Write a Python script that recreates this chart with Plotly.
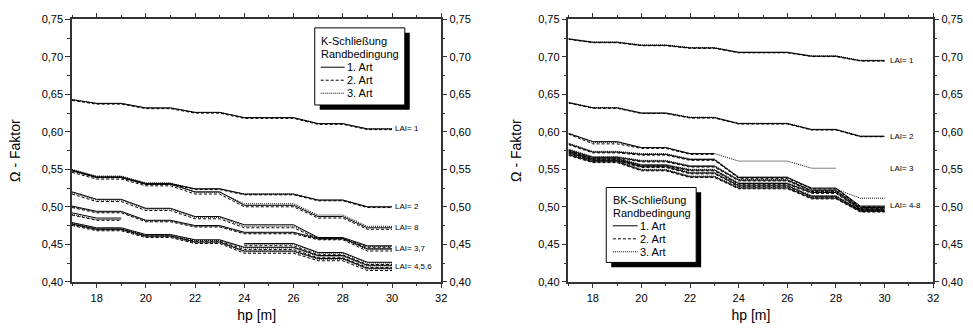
import plotly.graph_objects as go

# Canopy height hp [m]
HP = [17, 18, 19, 20, 21, 22, 23, 24, 25, 26, 27, 28, 29, 30]
ARTS = ["1. Art", "2. Art", "3. Art"]
_ = None

# ---- K-Schließung: Omega factor per LAI, one list per boundary condition ----
K_LAI1 = {
    "1. Art": [0.643, 0.638, 0.638, 0.632, 0.632, 0.626, 0.626, 0.619, 0.619, 0.619, 0.611, 0.611, 0.604, 0.604],
    "2. Art": [0.642, 0.637, 0.637, 0.631, 0.631, 0.625, 0.625, 0.618, 0.618, 0.618, 0.610, 0.610, 0.603, 0.603],
    "3. Art": [0.643, 0.638, 0.638, 0.632, 0.632, 0.626, 0.626, 0.619, 0.619, 0.619, 0.611, 0.611, 0.604, 0.604],
}
K_LAI2 = {
    "1. Art": [0.549, 0.540, 0.540, 0.531, 0.531, 0.524, 0.524, 0.517, 0.517, 0.517, 0.509, 0.509, 0.500, 0.500],
    "2. Art": [0.548, 0.539, 0.539, 0.530, 0.530, 0.523, 0.523, 0.516, 0.516, 0.516, 0.508, 0.508, 0.499, 0.499],
    "3. Art": [0.549, 0.540, 0.540, 0.531, 0.531, 0.524, 0.524, 0.517, 0.517, 0.517, 0.509, 0.509, 0.500, 0.500],
}
K_LAI8 = {
    "1. Art": [0.548, 0.539, 0.539, 0.530, 0.530, 0.520, 0.520, 0.502, 0.502, 0.502, 0.487, 0.487, 0.472, 0.472],
    "2. Art": [0.546, 0.537, 0.537, 0.528, 0.528, 0.517, 0.517, 0.500, 0.500, 0.500, 0.485, 0.485, 0.470, 0.470],
    "3. Art": [0.550, 0.541, 0.541, 0.532, 0.532, 0.519, 0.519, 0.504, 0.504, 0.504, 0.489, 0.489, 0.474, 0.474],
}
K_LAI3 = {
    "1. Art": [0.520, 0.510, 0.510, 0.498, 0.498, 0.487, 0.487, 0.476, 0.476, 0.476, 0.459, 0.459, 0.448, 0.448],
    "2. Art": [0.517, 0.507, 0.507, 0.495, 0.495, 0.484, 0.484, 0.472, 0.472, 0.472, 0.457, 0.457, 0.446, 0.446],
    "3. Art": [0.519, 0.509, 0.509, 0.497, 0.497, 0.486, 0.486, 0.474, 0.474, 0.474, 0.458, 0.458, 0.447, 0.447],
}
K_LAI7 = {
    "1. Art": [0.501, 0.494, 0.494, 0.482, 0.482, 0.475, 0.475, 0.466, 0.466, 0.466, 0.458, 0.458, 0.444, 0.444],
    "2. Art": [0.499, 0.492, 0.492, 0.480, 0.480, 0.473, 0.473, 0.464, 0.464, 0.464, 0.456, 0.456, 0.441, 0.441],
    "3. Art": [0.500, 0.493, 0.493, 0.481, 0.481, 0.474, 0.474, 0.465, 0.465, 0.465, 0.457, 0.457, 0.443, 0.443],
}
K_LAI6 = {
    "1. Art": [0.492, 0.485, 0.485, _, _, _, _, 0.451, 0.451, 0.451, 0.439, 0.439, 0.426, 0.426],
    "2. Art": [0.489, 0.482, 0.482, _, _, _, _, 0.448, 0.448, 0.448, 0.436, 0.436, 0.423, 0.423],
    "3. Art": [0.490, 0.483, 0.483, _, _, _, _, 0.450, 0.450, 0.450, 0.438, 0.438, 0.425, 0.425],
}
K_LAI4 = {
    "1. Art": [0.479, 0.472, 0.472, 0.463, 0.463, 0.456, 0.456, 0.446, 0.446, 0.446, 0.435, 0.435, 0.422, 0.422],
    "2. Art": [0.477, 0.470, 0.470, 0.461, 0.461, 0.454, 0.454, 0.443, 0.443, 0.443, 0.432, 0.432, 0.419, 0.419],
    "3. Art": [0.478, 0.471, 0.471, 0.462, 0.462, 0.455, 0.455, 0.445, 0.445, 0.445, 0.434, 0.434, 0.421, 0.421],
}
K_LAI5 = {
    "1. Art": [0.477, 0.470, 0.470, 0.461, 0.461, 0.453, 0.453, 0.441, 0.441, 0.441, 0.431, 0.431, 0.418, 0.418],
    "2. Art": [0.475, 0.468, 0.468, 0.459, 0.459, 0.451, 0.451, 0.438, 0.438, 0.438, 0.428, 0.428, 0.415, 0.415],
    "3. Art": [0.476, 0.469, 0.469, 0.460, 0.460, 0.452, 0.452, 0.440, 0.440, 0.440, 0.430, 0.430, 0.417, 0.417],
}

# ---- BK-Schließung ----
BK_LAI1 = {
    "1. Art": [0.724, 0.7195, 0.7195, 0.7155, 0.7155, 0.712, 0.712, 0.706, 0.706, 0.706, 0.701, 0.701, 0.695, 0.695],
    "2. Art": [0.7235, 0.719, 0.719, 0.715, 0.715, 0.7115, 0.7115, 0.7055, 0.7055, 0.7055, 0.7005, 0.7005, 0.6945, 0.6945],
    "3. Art": [0.7245, 0.720, 0.720, 0.716, 0.716, 0.7125, 0.7125, 0.7065, 0.7065, 0.7065, 0.7015, 0.7015, 0.6955, 0.6955],
}
BK_LAI2 = {
    "1. Art": [0.639, 0.632, 0.632, 0.625, 0.625, 0.619, 0.619, 0.611, 0.611, 0.611, 0.603, 0.603, 0.594, 0.594],
    "2. Art": [0.6385, 0.6315, 0.6315, 0.6245, 0.6245, 0.6185, 0.6185, 0.6105, 0.6105, 0.6105, 0.6025, 0.6025, 0.5935, 0.5935],
    "3. Art": [0.6395, 0.6325, 0.6325, 0.6255, 0.6255, 0.6195, 0.6195, 0.6115, 0.6115, 0.6115, 0.6035, 0.6035, 0.5945, 0.5945],
}
BK_LAI3 = {
    "1. Art": [0.598, 0.587, 0.587, 0.579, 0.579, 0.571, 0.571, _, _, _, _, _, _, _],
    "2. Art": [0.597, 0.584, 0.584, 0.578, 0.578, 0.570, 0.570, _, _, _, _, _, _, _],
    "3. Art": [0.598, 0.586, 0.586, 0.579, 0.579, 0.571, 0.571, 0.561, 0.561, 0.561, 0.5515, 0.5515, _, _],
}
BK_LAI4 = {
    "1. Art": [0.584, 0.573, 0.573, 0.570, 0.570, 0.563, 0.563, 0.539, 0.539, 0.539, 0.525, 0.525, 0.501, 0.501],
    "2. Art": [0.583, 0.572, 0.572, 0.569, 0.569, 0.562, 0.562, 0.538, 0.538, 0.538, 0.524, 0.524, 0.500, 0.500],
    "3. Art": [0.585, 0.574, 0.574, 0.571, 0.571, 0.564, 0.564, 0.540, 0.540, 0.540, 0.5235, 0.5235, 0.5115, 0.5115],
}
BK_LAI5 = {
    "1. Art": [0.576, 0.566, 0.566, 0.561, 0.561, 0.554, 0.554, 0.5355, 0.5355, 0.5355, 0.5215, 0.5215, 0.499, 0.499],
    "2. Art": [0.575, 0.565, 0.565, 0.560, 0.560, 0.553, 0.553, 0.5345, 0.5345, 0.5345, 0.5205, 0.5205, 0.498, 0.498],
    "3. Art": [0.577, 0.567, 0.567, 0.562, 0.562, 0.555, 0.555, 0.5365, 0.5365, 0.5365, 0.5225, 0.5225, 0.500, 0.500],
}
BK_LAI6 = {
    "1. Art": [0.574, 0.564, 0.564, 0.5555, 0.5555, 0.549, 0.549, 0.531, 0.531, 0.531, 0.519, 0.519, 0.497, 0.497],
    "2. Art": [0.573, 0.563, 0.563, 0.5545, 0.5545, 0.548, 0.548, 0.530, 0.530, 0.530, 0.518, 0.518, 0.496, 0.496],
    "3. Art": [0.575, 0.565, 0.565, 0.5565, 0.5565, 0.550, 0.550, 0.532, 0.532, 0.532, 0.520, 0.520, 0.498, 0.498],
}
BK_LAI7 = {
    "1. Art": [0.572, 0.562, 0.562, 0.5535, 0.5535, 0.545, 0.545, 0.528, 0.528, 0.528, 0.514, 0.514, 0.4955, 0.4955],
    "2. Art": [0.571, 0.561, 0.561, 0.5525, 0.5525, 0.544, 0.544, 0.527, 0.527, 0.527, 0.513, 0.513, 0.4945, 0.4945],
    "3. Art": [0.573, 0.563, 0.563, 0.5545, 0.5545, 0.546, 0.546, 0.529, 0.529, 0.529, 0.515, 0.515, 0.4965, 0.4965],
}
BK_LAI8 = {
    "1. Art": [0.5695, 0.560, 0.560, 0.549, 0.549, 0.540, 0.540, 0.525, 0.525, 0.525, 0.5115, 0.5115, 0.494, 0.494],
    "2. Art": [0.5685, 0.559, 0.559, 0.548, 0.548, 0.539, 0.539, 0.524, 0.524, 0.524, 0.5105, 0.5105, 0.493, 0.493],
    "3. Art": [0.5705, 0.561, 0.561, 0.550, 0.550, 0.541, 0.541, 0.526, 0.526, 0.526, 0.5125, 0.5125, 0.495, 0.495],
}

K_SERIES = [K_LAI1, K_LAI2, K_LAI3, K_LAI4, K_LAI5, K_LAI6, K_LAI7, K_LAI8]
BK_SERIES = [BK_LAI1, BK_LAI2, BK_LAI3, BK_LAI4, BK_LAI5, BK_LAI6, BK_LAI7, BK_LAI8]

# Curve end labels: (text, omega at hp = 30)
K_LABELS = [("LAI= 1", 0.604), ("LAI= 2", 0.500), ("LAI= 8", 0.472),
            ("LAI= 3,7", 0.445), ("LAI= 4,5,6", 0.420)]
BK_LABELS = [("LAI= 1", 0.695), ("LAI= 2", 0.594), ("LAI= 3", 0.5515),
             ("LAI= 4-8", 0.502)]

DASH = {"1. Art": "solid", "2. Art": "3px,2px", "3. Art": "1px,1px"}
FONT = "Arial, Liberation Sans, sans-serif"
W, H = 973, 333

fig = go.Figure()


def add_panel(series, xa, ya):
    for s in series:
        for art in ARTS:
            fig.add_trace(go.Scatter(
                x=HP, y=s[art], mode="lines", name=art,
                xaxis=xa, yaxis=ya, showlegend=False, connectgaps=False,
                line=dict(color="black", width=1, dash=DASH[art]),
            ))


add_panel(K_SERIES, "x", "y")
add_panel(BK_SERIES, "x2", "y3")

# helper traces so the right-hand tick axes get drawn
fig.add_trace(go.Scatter(x=[_], y=[_], xaxis="x", yaxis="y2", showlegend=False))
fig.add_trace(go.Scatter(x=[_], y=[_], xaxis="x2", yaxis="y4", showlegend=False))

ax_common = dict(
    showline=True, linecolor="#333", linewidth=1.5,
    ticks="outside", ticklen=5, tickwidth=1, tickcolor="#333",
    tickfont=dict(family=FONT, size=11, color="black"),
    showgrid=False, zeroline=False,
)
xcommon = dict(ax_common, range=[17, 32], dtick=2, mirror="ticks",
               minor=dict(ticks="outside", ticklen=3, dtick=1, tickcolor="#333"),
               title=dict(text="hp [m]", font=dict(family=FONT, size=14, color="black"),
                          standoff=8))
ycommon = dict(ax_common, range=[0.40, 0.75], dtick=0.05, tickformat=".2f",
               minor=dict(ticks="outside", ticklen=3, dtick=0.025, tickcolor="#333"))

YD = [0.141, 0.958]
fig.update_layout(
    width=W, height=H,
    margin=dict(l=0, r=0, t=0, b=0),
    paper_bgcolor="white", plot_bgcolor="white",
    separators=",.",
    font=dict(family=FONT, color="black"),
    showlegend=False,
    xaxis=dict(xcommon, domain=[0.0745, 0.4563], anchor="y"),
    yaxis=dict(ycommon, domain=YD, anchor="x", mirror=True,
               title=dict(text="Ω - Faktor", font=dict(family=FONT, size=14), standoff=18)),
    yaxis2=dict(ycommon, overlaying="y", side="right", anchor="x", showline=False),
    xaxis2=dict(xcommon, domain=[0.5879, 0.9651], anchor="y3"),
    yaxis3=dict(ycommon, domain=YD, anchor="x2", mirror=True,
                title=dict(text="Ω - Faktor", font=dict(family=FONT, size=14), standoff=13)),
    yaxis4=dict(ycommon, overlaying="y3", side="right", anchor="x2", showline=False),
)


def px(x, y):
    """pixel position -> paper coordinates"""
    return x / W, 1 - y / H


def boxed_key(left, top, right, bottom, title_lines, text_x, sample_x0, sample_x1, rows_y):
    # drop shadow, then white box with black frame
    for off, fill, lw in ((5, "black", 0), (0, "white", 1)):
        x0, y1 = px(left + off, top + off)
        x1, y0 = px(right + off, bottom + off)
        fig.add_shape(type="rect", xref="paper", yref="paper", x0=x0, x1=x1, y0=y0, y1=y1,
                      fillcolor=fill, line=dict(color="black", width=lw), layer="above")
    for line, yy in zip(title_lines, rows_y[:2]):
        fx, fy = px(text_x, yy)
        fig.add_annotation(x=fx, y=fy, xref="paper", yref="paper", text=line, showarrow=False,
                           xanchor="left", yanchor="middle", borderpad=0,
                           font=dict(family=FONT, size=11))
    for art, yy in zip(ARTS, rows_y[2:]):
        sx0, sy = px(sample_x0, yy)
        sx1, _sy = px(sample_x1, yy)
        fig.add_shape(type="line", xref="paper", yref="paper", x0=sx0, x1=sx1, y0=sy, y1=sy,
                      line=dict(color="black", width=1, dash=DASH[art]), layer="above")
        fx, fy = px(sample_x1 + 1, yy)
        fig.add_annotation(x=fx, y=fy, xref="paper", yref="paper", text=art, showarrow=False,
                           xanchor="left", yanchor="middle", borderpad=0,
                           font=dict(family=FONT, size=11))


boxed_key(316.7, 22.7, 407.3, 102.7, ["K-Schließung", "Randbedingung"],
          321.5, 322.7, 346.7, [36.5, 50, 63.5, 77, 90.5])
boxed_key(610, 188.3, 700.5, 266, ["BK-Schließung", "Randbedingung"],
          615.5, 616.7, 641.7, [201, 214.5, 228, 241.5, 255])

for text, val in K_LABELS:
    fig.add_annotation(x=30.05, y=val, xref="x", yref="y", text=text, showarrow=False,
                       xanchor="left", yanchor="middle", font=dict(family=FONT, size=8))
for text, val in BK_LABELS:
    fig.add_annotation(x=30.15, y=val, xref="x2", yref="y3", text=text, showarrow=False,
                       xanchor="left", yanchor="middle", font=dict(family=FONT, size=8))

fig.write_html("out.html")
